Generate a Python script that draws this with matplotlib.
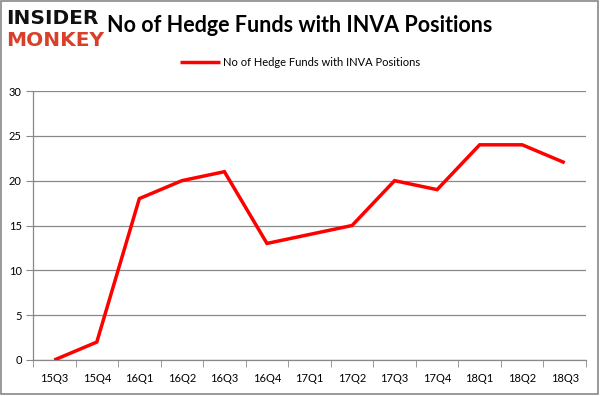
import matplotlib
matplotlib.use("Agg")
import matplotlib.pyplot as plt
from matplotlib.patches import Rectangle

categories = ["15Q3", "15Q4", "16Q1", "16Q2", "16Q3", "16Q4", "17Q1",
              "17Q2", "17Q3", "17Q4", "18Q1", "18Q2", "18Q3"]
values = [0, 2, 18, 20, 21, 13, 14, 15, 20, 19, 24, 24, 22]
yticks = [0, 5, 10, 15, 20, 25, 30]
series_name = "No of Hedge Funds with INVA Positions"
title = "No of Hedge Funds with INVA Positions"

plt.rcParams['font.family'] = ['Lato', 'DejaVu Sans']

fig = plt.figure(figsize=(6.01, 3.96), dpi=100)
ax = fig.add_axes([33/601, 36/396, (586-33)/601, (360-91)/396])

x = list(range(len(categories)))
line, = ax.plot(x, values, color='#ff0000', lw=2.5, solid_capstyle='butt',
                solid_joinstyle='miter', label=series_name, zorder=3)

ax.set_xlim(-0.5, len(categories) - 0.5)
ax.set_ylim(0, 30)
ax.set_yticks(yticks)
ax.set_yticklabels([str(v) for v in yticks], fontsize=8)
ax.set_xticks(x)
ax.set_xticklabels(categories, fontsize=8)
ax.set_xticks([i - 0.5 for i in range(len(categories) + 1)], minor=True)
ax.tick_params(axis='x', which='major', length=0, pad=9)
ax.tick_params(axis='x', which='minor', length=5, color='#888888', direction='out')
ax.tick_params(axis='y', which='major', length=5, color='#888888', direction='out', pad=3)

ax.grid(axis='y', color='#888888', lw=0.9)
ax.set_axisbelow(True)
for s in ['top', 'right']:
    ax.spines[s].set_visible(False)
for s in ['left', 'bottom']:
    ax.spines[s].set_color('#888888')
    ax.spines[s].set_linewidth(0.9)

leg = fig.legend(handles=[line], loc='center', frameon=False, fontsize=8,
                 handlelength=3.6, handletextpad=0.3)
leg.set_bbox_to_anchor((300/601, 1 - 62/396))

fig.text(300/601, 1 - 25/396, title, ha='center', va='center',
         fontsize=15.5, fontweight='bold', color='black')

fig.text(6/601, 1 - 19/396, "INSIDER", ha='left', va='center',
         fontsize=14.5, fontweight='heavy', color='#111111', family=['DejaVu Sans'])
fig.text(6/601, 1 - 40/396, "MONKEY", ha='left', va='center',
         fontsize=14.5, fontweight='heavy', color='#d9402a', family=['DejaVu Sans'])

fig.patches.append(Rectangle((0.001, 0.006), 0.994, 0.991, transform=fig.transFigure,
                             fill=False, edgecolor='#888888', lw=1.2))

fig.savefig("out.png", dpi=100)
